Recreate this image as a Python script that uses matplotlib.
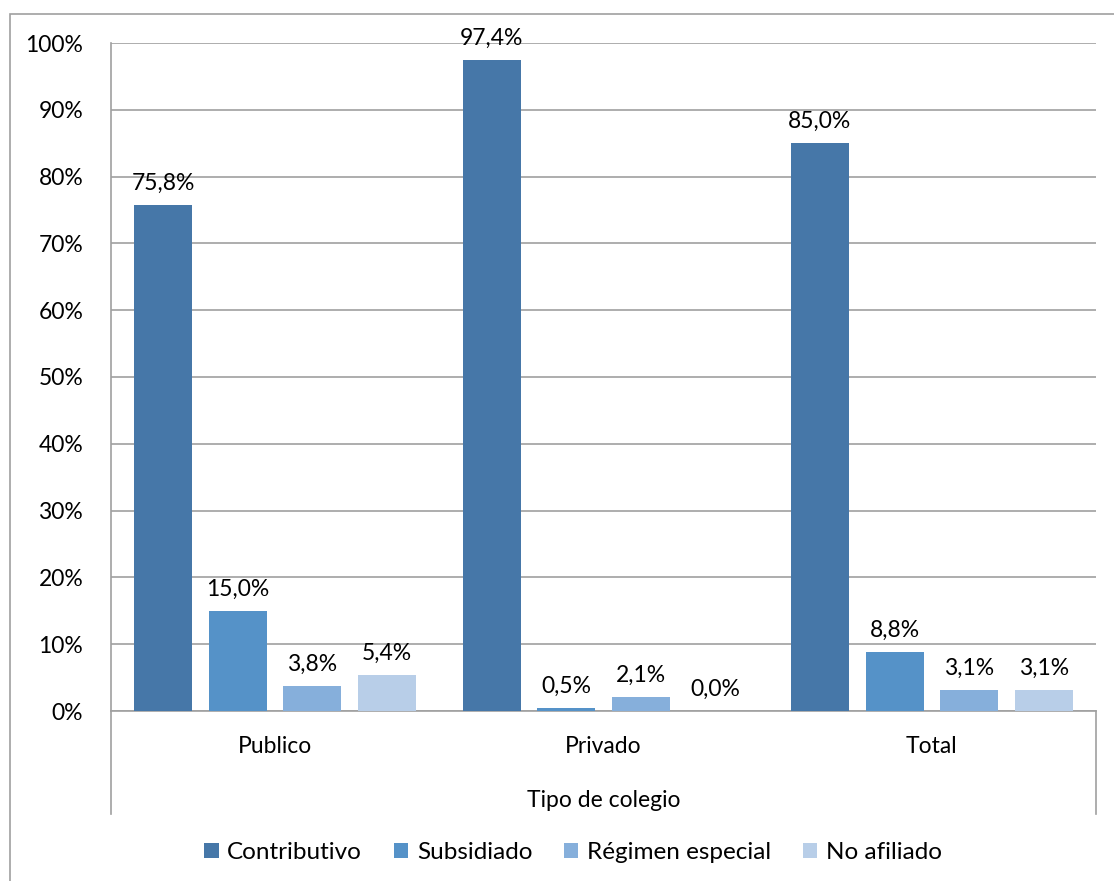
import matplotlib.pyplot as plt
from matplotlib.patches import Rectangle
import numpy as np

plt.rcParams['font.family'] = ['Lato', 'DejaVu Sans']

categories = ['Publico', 'Privado', 'Total']
series = ['Contributivo', 'Subsidiado', 'Régimen especial', 'No afiliado']
contributivo = [75.8, 97.4, 85.0]
subsidiado = [15.0, 0.5, 8.8]
regimen = [3.8, 2.1, 3.1]
no_afiliado = [5.4, 0.0, 3.1]
colors = ['#4677a8', '#5592c8', '#86afdb', '#b8cee8']

values = [contributivo, subsidiado, regimen, no_afiliado]

W, H = 1114, 881
FS = 16.5
fig = plt.figure(figsize=(W / 100, H / 100), dpi=100)
ax = fig.add_axes([111 / W, 1 - 711 / H, (1096 - 111) / W, (711 - 43) / H])

x = np.arange(len(categories))
bw = 58 / 328
step = 74.5 / 328
offsets = (np.arange(4) - 1.5) * step

for i, (name, vals) in enumerate(zip(series, values)):
    bars = ax.bar(x + offsets[i], vals, width=bw, color=colors[i], label=name, zorder=3)
    for b, v in zip(bars, vals):
        ax.annotate(f'{v:.1f}%'.replace('.', ','), (b.get_x() + b.get_width() / 2, v),
                    xytext=(0, 8), textcoords='offset points', ha='center', va='bottom',
                    fontsize=FS, color='black')

ax.set_xlim(-0.5, 2.5)
ax.set_ylim(0, 100)
ax.set_yticks(np.arange(0, 101, 10))
ax.set_yticklabels([f'{t}%' for t in range(0, 101, 10)], fontsize=FS)
ax.set_xticks(x)
ax.set_xticklabels(categories, fontsize=FS)
ax.tick_params(axis='x', length=0, pad=18)
ax.tick_params(axis='y', length=0, pad=20)
ax.yaxis.grid(True, color='#a0a0a0', linewidth=1.2, zorder=0)
ax.set_axisbelow(True)
for s in ['top', 'right']:
    ax.spines[s].set_visible(False)
ax.spines['left'].set_color('#a0a0a0')
ax.spines['bottom'].set_color('#a0a0a0')
ax.spines['left'].set_linewidth(1.2)
ax.spines['bottom'].set_linewidth(1.2)

# category box lines below the axis
drop = (814 - 711) / (711 - 43)
for xx in [0, 1]:
    ax.plot([xx, xx], [0, -drop], transform=ax.transAxes, color='#a0a0a0',
            linewidth=1.2, clip_on=False)

ax.set_xlabel('Tipo de colegio', fontsize=FS, labelpad=24)

ax.legend(loc='center', bbox_to_anchor=(0.469, -0.212), ncol=4, frameon=False,
          fontsize=17.5, handlelength=0.6, handleheight=0.6, handletextpad=0.35,
          columnspacing=1.3)

fig.patches.append(Rectangle((10 / W, -0.1), 2, 1 - 14 / H + 0.1, fill=False,
                             edgecolor='#a0a0a0', linewidth=1.2, transform=fig.transFigure))

fig.savefig('out.png', dpi=100)
